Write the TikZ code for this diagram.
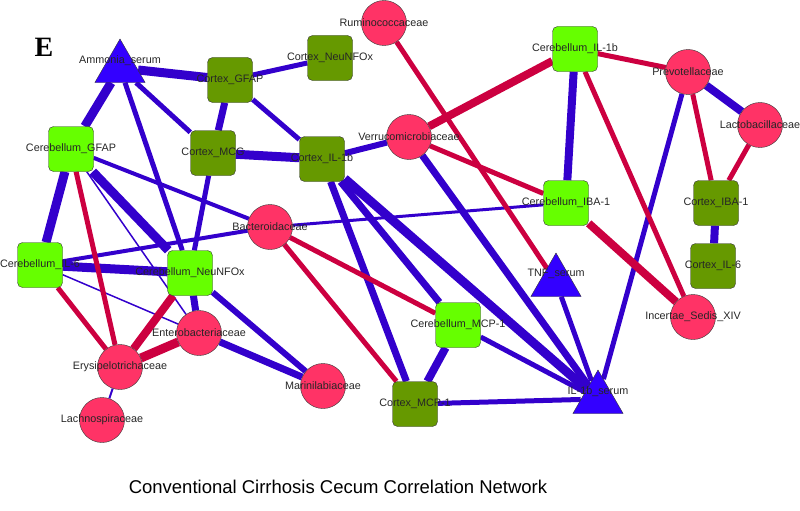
\documentclass[tikz,border=0pt]{standalone}
\usepackage{fontspec}
\setmainfont{Liberation Sans}
\newfontfamily\panelfont{Liberation Serif}
\usetikzlibrary{shapes.geometric,backgrounds}

\definecolor{cbgreen}{HTML}{66FF00}
\definecolor{ctxgreen}{HTML}{669900}
\definecolor{bactred}{HTML}{FF3366}
\definecolor{serumblue}{HTML}{3300FF}
\definecolor{edgeblue}{HTML}{3300CC}
\definecolor{edgered}{HTML}{CC0040}

\begin{document}
\begin{tikzpicture}[x=1pt,y=-1pt]
	% size of each node
	\def\sq{45pt}
	\def\rd{45pt}
	\def\tri{58pt}
	% zero width text, so the names run over the nodes
	\def\nm#1{\makebox[0pt]{#1}}
	% node style definition
	\tikzstyle{lbl} = [text=black!85, font=\fontsize{10.8}{13}\selectfont];
	\tikzstyle{cereb} = [draw=black!80, fill=cbgreen, rectangle, rounded corners=5pt, minimum size=\sq, inner sep=0pt, lbl];
	\tikzstyle{cortex} = [cereb, fill=ctxgreen];
	\tikzstyle{bact} = [draw=black!80, fill=bactred, circle, minimum size=\rd, inner sep=0pt, lbl];
	\tikzstyle{serum} = [draw=black!80, fill=serumblue, regular polygon, regular polygon sides=3, minimum size=\tri, inner sep=0pt];
	\tikzstyle{linkblue} = [draw=edgeblue];
	\tikzstyle{linkred} = [draw=edgered];
	\useasboundingbox (0,0) rectangle (800,511);
	% serum
	\node[serum, label={[lbl,yshift=7pt]center:Ammonia\_serum}] (ammonia) at (120,68) {};
	\node[serum, label={[lbl,yshift=8pt]center:TNF\_serum}] (tnf) at (556,282) {};
	\node[serum, label={[lbl,yshift=7pt]center:IL-1b\_serum}] (ilserum) at (598,399) {};
	% cortex
	\node[cortex] (ctxgfap) at (230,80) { \nm{Cortex\_GFAP} };
	\node[cortex] (ctxneu) at (330,58) { \nm{Cortex\_NeuNFOx} };
	\node[cortex] (ctxmcg) at (213,153) { \nm{Cortex\_MCG} };
	\node[cortex] (ctxil) at (322,159) { \nm{Cortex\_IL-1b} };
	\node[cortex] (ctxiba) at (716,203) { \nm{Cortex\_IBA-1} };
	\node[cortex] (ctxilsix) at (713,266) { \nm{Cortex\_IL-6} };
	\node[cortex] (ctxmcp) at (415,404) { \nm{Cortex\_MCP-1} };
	% cerebellum
	\node[cereb] (cbgfap) at (71,149) { \nm{Cerebellum\_GFAP} };
	\node[cereb] (cbil) at (575,49) { \nm{Cerebellum\_IL-1b} };
	\node[cereb] (cbiba) at (566,203) { \nm{Cerebellum\_IBA-1} };
	\node[cereb] (cbmcp) at (458,325) { \nm{Cerebellum\_MCP-1} };
	\node[cereb] (cbilsix) at (40,265) { \nm{Cerebellum\_IL-6} };
	\node[cereb] (cbneu) at (190,273) { \nm{Cerebellum\_NeuNFOx} };
	% bacteria
	\node[bact] (rumino) at (384,23) { \nm{Ruminococcaceae} };
	\node[bact] (verruco) at (409,137) { \nm{Verrucomicrobiaceae} };
	\node[bact] (prevo) at (688,72) { \nm{Prevotellaceae} };
	\node[bact] (lacto) at (760,125) { \nm{Lactobacillaceae} };
	\node[bact] (bactero) at (270,227) { \nm{Bacteroidaceae} };
	\node[bact] (incertae) at (693,317) { \nm{Incertae\_Sedis\_XIV} };
	\node[bact] (marini) at (323,386) { \nm{Marinilabiaceae} };
	\node[bact] (entero) at (199,333) { \nm{Enterobacteriaceae} };
	\node[bact] (erysi) at (120,367) { \nm{Erysipelotrichaceae} };
	\node[bact] (lachno) at (102,420) { \nm{Lachnospiraceae} };
	% panel letter and title
	\node[font=\panelfont\bfseries\fontsize{28}{30}\selectfont] (panel) at (44,47) {E};
	\node[font=\fontsize{18.5}{22}\selectfont] (title) at (338,487) {Conventional Cirrhosis Cecum Correlation Network};
	% edges behind the nodes
	\begin{pgfonlayer}{background}
	\foreach \a/\b/\w in {ammonia/ctxgfap/9, ammonia/cbgfap/9, ammonia/ctxmcg/5, ammonia/cbneu/5,
		ctxgfap/ctxneu/5, ctxgfap/ctxmcg/7, ctxgfap/ctxil/5, ctxmcg/ctxil/9, ctxmcg/cbneu/5,
		cbgfap/cbilsix/9, cbgfap/cbneu/9, cbgfap/bactero/4, cbgfap/entero/1.5,
		cbilsix/cbneu/9, cbilsix/bactero/4, cbilsix/entero/1.5,
		cbneu/entero/7, cbneu/marini/6, entero/marini/7, erysi/lachno/2,
		ctxil/verruco/6, ctxil/ctxmcp/7, ctxil/cbmcp/7, ctxil/ilserum/9, verruco/ilserum/7,
		bactero/cbiba/3, cbil/cbiba/8, prevo/lacto/8, prevo/ilserum/5, ctxiba/ctxilsix/8,
		cbmcp/ctxmcp/8, cbmcp/ilserum/5, ctxmcp/ilserum/5, tnf/ilserum/5}
		\draw[linkblue, line width=\w pt] (\a) -- (\b);
	\foreach \a/\b/\w in {rumino/tnf/5, verruco/cbil/8, verruco/cbiba/5, cbil/prevo/5,
		cbil/incertae/5, prevo/ctxiba/5, lacto/ctxiba/5, cbiba/incertae/8,
		bactero/cbmcp/5, bactero/ctxmcp/5, cbgfap/erysi/5, cbilsix/erysi/5,
		cbneu/erysi/8, entero/erysi/9}
		\draw[linkred, line width=\w pt] (\a) -- (\b);
	\end{pgfonlayer}
\end{tikzpicture}
\end{document}
